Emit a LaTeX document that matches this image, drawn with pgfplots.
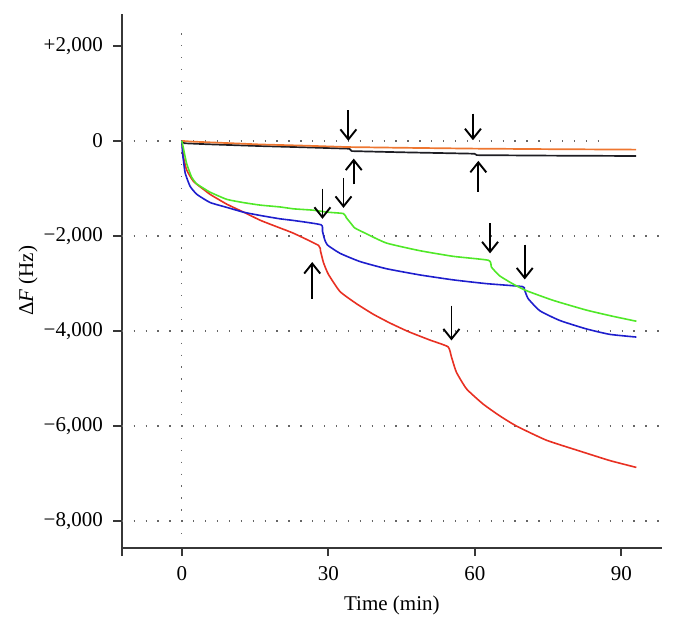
\documentclass[border=0pt]{standalone}
\usepackage{fontspec}
\setmainfont{Liberation Serif}
\usepackage{pgfplots}
\pgfplotsset{compat=1.18}
\usetikzlibrary{arrows.meta}
\definecolor{cRed}{RGB}{232,48,34}
\definecolor{cBlue}{RGB}{30,30,205}
\definecolor{cGreen}{RGB}{80,232,40}
\definecolor{cOrange}{RGB}{238,118,48}
\definecolor{cBlack}{RGB}{30,30,36}
\definecolor{cAxis}{RGB}{55,55,55}
\tikzset{
  gridsty/.style={line width=1.3pt, black!60, dash pattern=on 1.3pt off 10.6pt},
  arr/.style={line width=1.9pt, black, -{Straight Barb[length=10pt,width=16pt,line width=1.9pt]}},
}
\begin{document}
\begin{tikzpicture}[font=\fontsize{21}{25}\selectfont]
\useasboundingbox (0,0) rectangle (676pt,626pt);
\begin{axis}[
  at={(121.7pt,78.3pt)}, anchor=south west,
  width=540.3pt, height=533.7pt, scale only axis,
  xmin=-12.3, xmax=98.3, ymin=-8560, ymax=2670,
  axis x line=bottom, axis y line=left,
  axis line style={-, line width=2pt, draw=cAxis},
  tick align=outside, major tick length=8.4pt,
  tick style={line width=2pt, draw=cAxis},
  xtick={0,30,60,90}, xticklabels={0,30,60,90},
  extra x ticks={-12.3}, extra x tick labels={},
  ytick={2000,0,-2000,-4000,-6000,-8000},
  yticklabels={{+2,000},{0},{−2,000},{−4,000},{−6,000},{−8,000}},
  yticklabel style={xshift=-7pt},
  xticklabel style={yshift=-7pt},
  xlabel={Time (min)}, ylabel={Δ\textit{F} (Hz)},
  xlabel style={at={(axis description cs:0.5,-0.1074)}, anchor=center},
  ylabel style={at={(axis description cs:-0.1734,0.5)}, anchor=center},
  clip=false,
]
% dotted reference lines
\draw[gridsty] (axis cs:-12.3,0) -- (axis cs:85.2,0);
\draw[gridsty] (axis cs:-12.3,-2000) -- (axis cs:98.3,-2000);
\draw[gridsty] (axis cs:-12.3,-4000) -- (axis cs:98.3,-4000);
\draw[gridsty] (axis cs:-12.3,-6000) -- (axis cs:98.3,-6000);
\draw[gridsty] (axis cs:-12.3,-8000) -- (axis cs:98.3,-8000);
\draw[gridsty] (axis cs:0,2264) -- (axis cs:0,-8277);

% black
\addplot[cBlack, line width=1.7pt] coordinates {
(0,0) (0.5,-50) (5,-70) (16,-109) (25,-135) (34.3,-165) (34.8,-215)
(45,-240) (59.9,-270) (60.4,-300) (75,-310) (93.0,-318)};
% orange
\addplot[cOrange, line width=1.7pt] coordinates {
(0,0) (2,-15) (8,-40) (16,-75) (25,-100) (34,-130) (45,-145)
(60,-163) (75,-174) (93.0,-184)};
% red
\addplot[cRed, line width=1.6pt, smooth, tension=0.3] coordinates {
(0,0) (0.15,-150) (0.34,-341) (1,-614) (2.4,-853) (4.5,-1024) (5.8,-1126)
(9.2,-1331) (12.7,-1502) (16.1,-1672) (19.5,-1809) (22.9,-1945) (28.0,-2200)
(28.4,-2320) (29.0,-2560) (30.0,-2806) (32.4,-3172) (35.8,-3429) (39.2,-3648)
(42.6,-3832) (46.4,-4014) (50.8,-4191) (54.5,-4333) (55.2,-4546) (56.2,-4865)
(58.3,-5220) (61.7,-5539) (65.1,-5787) (68.5,-6000) (74.6,-6297) (81.5,-6528)
(87.6,-6726) (93.05,-6871)};
% blue
\addplot[cBlue, line width=1.6pt, smooth, tension=0.3] coordinates {
(0,0) (0.2,-300) (0.34,-410) (0.7,-680) (1.7,-956) (3.1,-1126) (5.8,-1297)
(9.2,-1399) (12.7,-1502) (16.1,-1570) (20.1,-1640) (22.9,-1675) (28.5,-1765)
(28.8,-1900) (29.2,-2060) (29.8,-2190) (32.4,-2366) (36.5,-2540) (41.9,-2690)
(48.7,-2820) (55.6,-2925) (62.4,-3004) (69.7,-3065) (70.1,-3121) (70.9,-3319)
(73.3,-3575) (77.4,-3780) (82.8,-3956) (87.6,-4071) (93.05,-4128)};
% green
\addplot[cGreen, line width=1.6pt, smooth, tension=0.3] coordinates {
(0,0) (0.3,-140) (1,-480) (2,-760) (3,-900) (4.5,-1000) (5.8,-1080)
(9.2,-1230) (12.7,-1300) (16.1,-1352) (20.1,-1390) (22.9,-1430) (26.9,-1458)
(29.8,-1500) (33.1,-1530) (33.7,-1620) (34.5,-1720) (35.4,-1831) (37.5,-1940)
(41.9,-2150) (48.7,-2310) (55.6,-2430) (62.8,-2513) (63.4,-2659) (65.1,-2842)
(67.8,-3011) (70.5,-3150) (76.0,-3355) (82.8,-3560) (88.2,-3690) (93.05,-3795)};

% arrows
\draw[arr] (axis cs:34.1,644) -- (axis cs:34.1,0);
\draw[arr] (axis cs:35.2,-915) -- (axis cs:35.2,-373);
\draw[arr] (axis cs:59.6,576) -- (axis cs:59.6,14);
\draw[arr] (axis cs:60.7,-1071) -- (axis cs:60.7,-420);
\draw[arr] (axis cs:33.1,-780) -- (axis cs:33.1,-1410);
\draw[arr] (axis cs:28.8,-1003) -- (axis cs:28.8,-1640);
\draw[arr] (axis cs:26.7,-3319) -- (axis cs:26.7,-2549);
\draw[arr] (axis cs:63.1,-1729) -- (axis cs:63.1,-2366);
\draw[arr] (axis cs:70.2,-2183) -- (axis cs:70.2,-2916);
\draw[arr] (axis cs:55.2,-3468) -- (axis cs:55.2,-4199);
\end{axis}
\end{tikzpicture}
\end{document}
